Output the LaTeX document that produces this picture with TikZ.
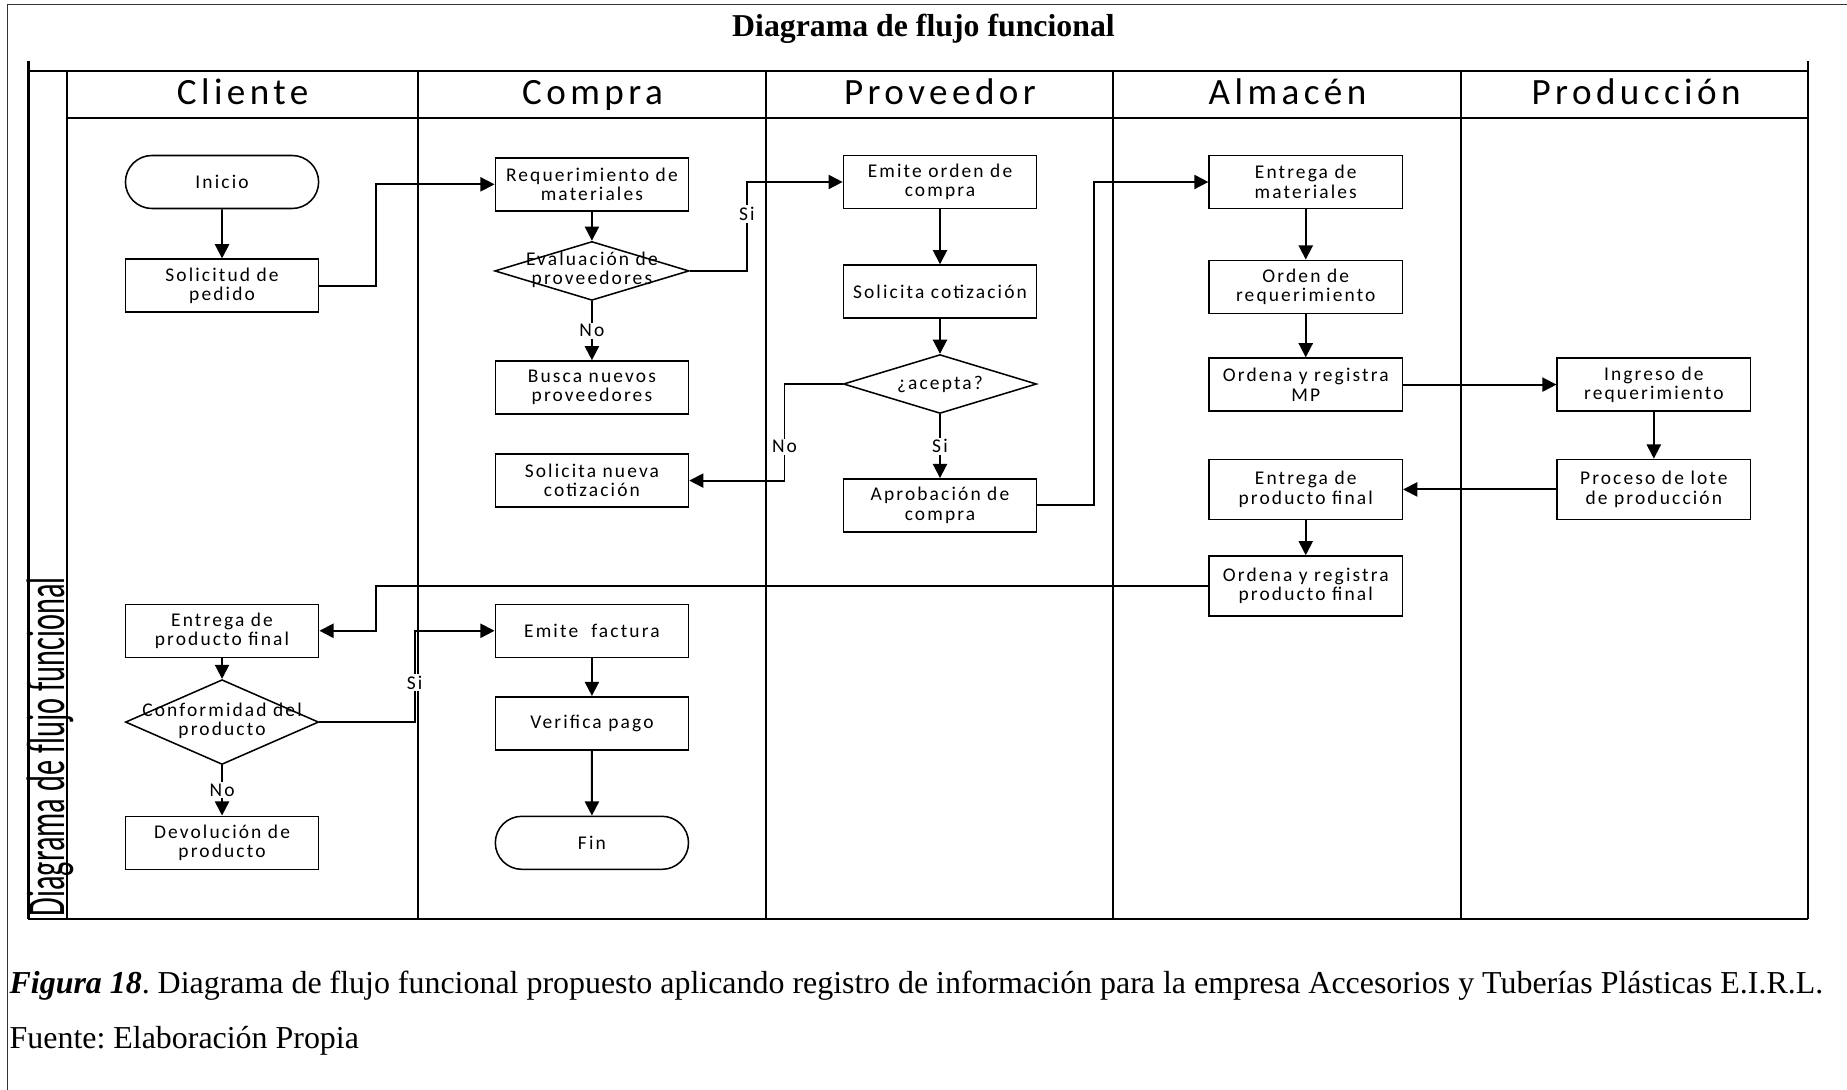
\documentclass[tikz,border=0pt]{standalone}
\usepackage{fontspec}
\setmainfont{Liberation Serif}
\newfontfamily\diafont[LetterSpace=11]{Carlito}
\newfontfamily\hdfamily[LetterSpace=12]{Carlito}
\newfontfamily\plainsans{Carlito}
\usetikzlibrary{shapes.geometric,shapes.misc,arrows.meta}
\newcommand\bxfont{\diafont\fontsize{16.5}{16.5}\selectfont}
\newcommand\hdfont{\hdfamily\fontsize{31.5}{33}\selectfont}
\frenchspacing
\begin{document}
\begin{tikzpicture}[x=1pt,y=-1pt,
  proc/.style={draw, line width=1.3pt, rectangle, minimum width=164pt, minimum height=45pt, inner sep=0pt, align=center, font=\bxfont},
  term/.style={draw, line width=1.3pt, rounded rectangle, minimum width=164pt, minimum height=45pt, inner sep=0pt, align=center, font=\bxfont},
  dec/.style={draw, line width=1.3pt, diamond, minimum width=165pt, minimum height=50pt, inner sep=0pt},
  dectext/.style={align=center, font=\bxfont, inner sep=0pt},
  lbl/.style={fill=white, inner sep=1.5pt, font=\bxfont},
  arr/.style={draw, line width=1.6pt, -{Triangle[length=12pt,width=12pt]}},
  lane/.style={line width=1.6pt},
  hdr/.style={font=\hdfont, anchor=base, inner sep=0pt},
  frame/.style={line width=0.9pt, black!80}
]
\useasboundingbox (0,0) rectangle (1568,925);

% outer frame
\draw[frame] (6,925) -- (6,4) -- (1568,4);

% title
\node[anchor=base, font=\bfseries\fontsize{27}{30}\selectfont] (title) at (784,31) {Diagrama de flujo funcional};

% swimlanes
\draw[lane, line width=2.2pt] (24,52) -- (24,780);
\draw[lane] (57,60) -- (57,780);
\draw[lane] (355,60) -- (355,780);
\draw[lane] (650,60) -- (650,780);
\draw[lane] (945,60) -- (945,780);
\draw[lane] (1240,60) -- (1240,780);
\draw[lane, line width=1.9pt] (1535,52) -- (1535,780);
\draw[lane, line width=1.9pt] (24,60) -- (1535,60);
\draw[lane, line width=1.9pt] (57,100.5) -- (1535,100.5);
\draw[lane, line width=1.9pt] (24,780) -- (1535,780);

\node[rotate=90, anchor=base west, inner sep=0pt] (vlab) at (55,778)
  {\scalebox{0.56}[1]{\plainsans\fontsize{46}{46}\selectfont Diagrama de flujo funcional}};

% lane headers
\node[hdr] (hCli) at (206,89) {Cliente};
\node[hdr] (hCom) at (503,89) {Compra};
\node[hdr] (hPro) at (798,89) {Proveedor};
\node[hdr] (hAlm) at (1093,89) {Almacén};
\node[hdr] (hPrd) at (1389,89) {Producción};

% bend coordinates
\coordinate (bA) at (319,0);
\coordinate (bB) at (634,0);
\coordinate (bC) at (666,0);
\coordinate (bD) at (929,0);
\coordinate (bE) at (352,0);

% Cliente
\node[term] (ini) at (188.5,154.5) {Inicio};
\node[proc] (sol) at (188.5,242.5) {Solicitud de\\pedido};
\node[proc] (entC) at (188.5,535.5) {Entrega de\\producto final};
\node[dec, minimum height=72pt, minimum width=164pt] (conf) at (188.5,613)
  {};
\node[dectext] (confT) at (188.5,612) {Conformidad del\\producto};
\node[proc] (dev) at (188.5,715.5) {Devolución de\\producto};

% Compra
\node[proc] (req) at (502.5,156.5) {Requerimiento de\\materiales};
\node[dec] (eval) at (502.5,230) {};
\node[dectext] (evalT) at (502.5,229) {Evaluación de\\proveedores};
\node[proc] (busca) at (502.5,329) {Busca nuevos\\proveedores};
\node[proc] (solN) at (502.5,408) {Solicita nueva\\cotización};
\node[proc] (fact) at (502.5,535.5) {Emite\ \ factura};
\node[proc] (ver) at (502.5,614) {Verifica pago};
\node[term] (fin) at (502.5,715.5) {Fin};

% Proveedor
\node[proc] (ord) at (798,154.5) {Emite orden de\\compra};
\node[proc] (cot) at (798,247.5) {Solicita cotización};
\node[dec, minimum width=164pt] (acep) at (798,326) {};
\node[dectext] (acepT) at (798,326) {¿acepta?};
\node[proc] (apr) at (798,429) {Aprobación de\\compra};

% Almacen
\node[proc] (entM) at (1108.5,154.5) {Entrega de\\materiales};
\node[proc] (ordR) at (1108.5,243.5) {Orden de\\requerimiento};
\node[proc] (ordMP) at (1108.5,326.5) {Ordena y registra\\MP};
\node[proc, minimum height=51pt] (entA) at (1108.5,415.5) {Entrega de\\producto final};
\node[proc, minimum height=51pt] (ordPF) at (1108.5,497.5) {Ordena y registra\\producto final};

% Produccion
\node[proc] (ing) at (1404,326.5) {Ingreso de\\requerimiento};
\node[proc, minimum height=51pt] (lote) at (1404,415.5) {Proceso de lote\\de producción};

% connectors
\draw[arr] (ini) -- (sol);
\draw[arr] (sol.east) -- (sol.east -| bA) -- (req.west -| bA) -- (req.west);
\draw[arr] (req) -- (eval);
\draw[arr] (eval) -- node[lbl] {No} (busca);
\draw[arr] (eval.east) -- (eval.east -| bB) -- node[lbl, pos=0.64] {Si} (ord.west -| bB) -- (ord.west);
\draw[arr] (ord) -- (cot);
\draw[arr] (cot) -- (acep);
\draw[arr] (acep.west) -- (acep.west -| bC) -- node[lbl, pos=0.65] {No} (solN.east -| bC) -- (solN.east);
\draw[arr] (acep) -- node[lbl] {Si} (apr);
\draw[arr] (apr.east) -- (apr.east -| bD) -- (entM.west -| bD) -- (entM.west);
\draw[arr] (entM) -- (ordR);
\draw[arr] (ordR) -- (ordMP);
\draw[arr] (ordMP) -- (ing);
\draw[arr] (ing) -- (lote);
\draw[arr] (lote) -- (entA);
\draw[arr] (entA) -- (ordPF);
\draw[arr] (ordPF.west) -- (ordPF.west -| bA) -- (entC.east -| bA) -- (entC.east);
\draw[arr] (entC) -- (conf);
\draw[arr] (conf) -- node[lbl] {No} (dev);
\draw[arr] (conf.east) -- (conf.east -| bE) -- node[lbl, pos=0.43] {Si} (fact.west -| bE) -- (fact.west);
\draw[arr] (fact) -- (ver);
\draw[arr] (ver) -- (fin);

% caption
\node[anchor=base west, inner sep=0pt, font=\fontsize{27.1}{30}\selectfont] (cap) at (8,843)
  {\textbf{\textit{Figura 18}}. Diagrama de flujo funcional propuesto aplicando registro de información para la empresa Accesorios y Tuberías Plásticas E.I.R.L.};
\node[anchor=base west, inner sep=0pt, font=\fontsize{27.1}{30}\selectfont] (src) at (8,890)
  {Fuente: Elaboración Propia};
\end{tikzpicture}
\end{document}
